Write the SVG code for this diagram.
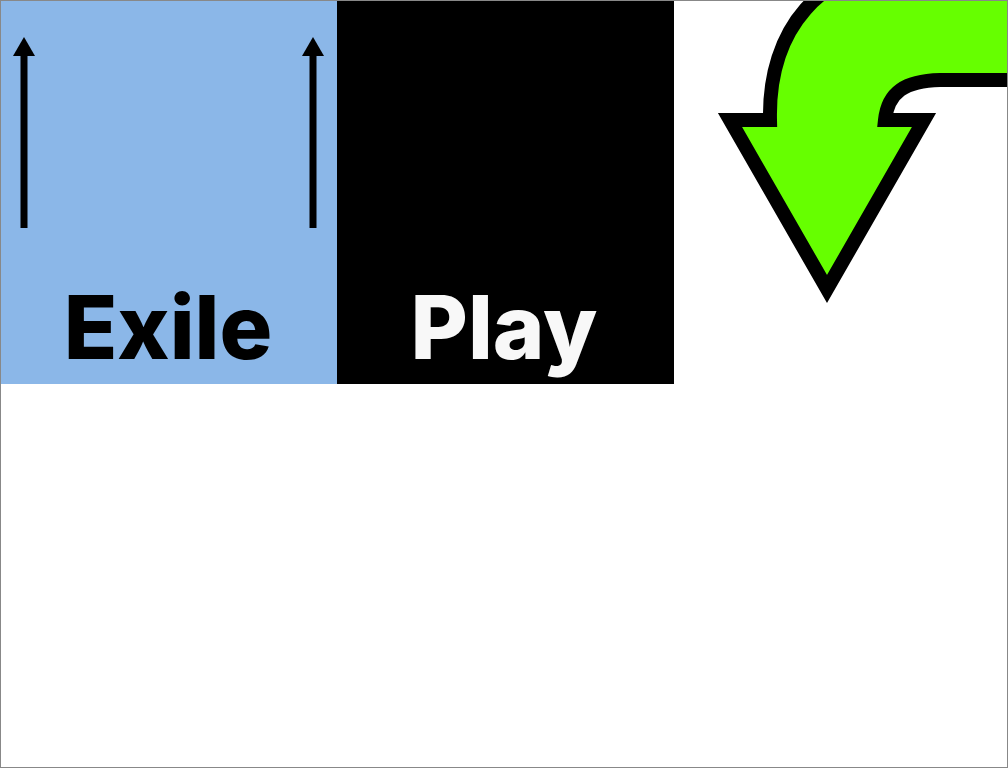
<svg xmlns="http://www.w3.org/2000/svg" width="1008" height="768" viewBox="0 0 1008 768">
  <defs>
    <style>
      .lbl { font-family: Inter, "Liberation Sans", sans-serif; font-weight: 800; font-size: 88px; text-anchor: middle; }
      .conn { stroke: #000; stroke-width: 7; fill: none; }
    </style>
    <marker id="ah" markerUnits="userSpaceOnUse" markerWidth="20" markerHeight="22" refX="0" refY="11" orient="auto" viewBox="0 0 20 22">
      <path d="M0 0 L19 11 L0 22 Z" fill="#000"/>
    </marker>
  </defs>
  <rect x="0" y="0" width="1008" height="768" fill="#fff"/>
  <g id="exile">
    <rect x="0" y="0" width="337" height="384" fill="#8bb7e8"/>
    <text class="lbl" x="168" y="359" fill="#000">Exile</text>
  </g>
  <g id="play">
    <rect x="337" y="0" width="337" height="384" fill="#000"/>
    <text class="lbl" x="504" y="359" fill="#f8f8f8">Play</text>
  </g>
  <g id="turn-arrow">
    <path d="M1020 -34 L910 -34 C820 -34 768 30 770 120 L730 120 L827 289 L924 120 L885 120 C888 92 905 81 940 80 L1020 80 Z" fill="#66ff00" stroke="#000" stroke-width="14" stroke-miterlimit="10"/>
  </g>
  <g id="connectors">
    <line class="conn" x1="24" y1="228" x2="24" y2="56" marker-end="url(#ah)"/>
    <line class="conn" x1="313" y1="228" x2="313" y2="56" marker-end="url(#ah)"/>
  </g>
  <rect x="0.5" y="0.5" width="1007" height="767" fill="none" stroke="#888" stroke-width="1"/>
</svg>
